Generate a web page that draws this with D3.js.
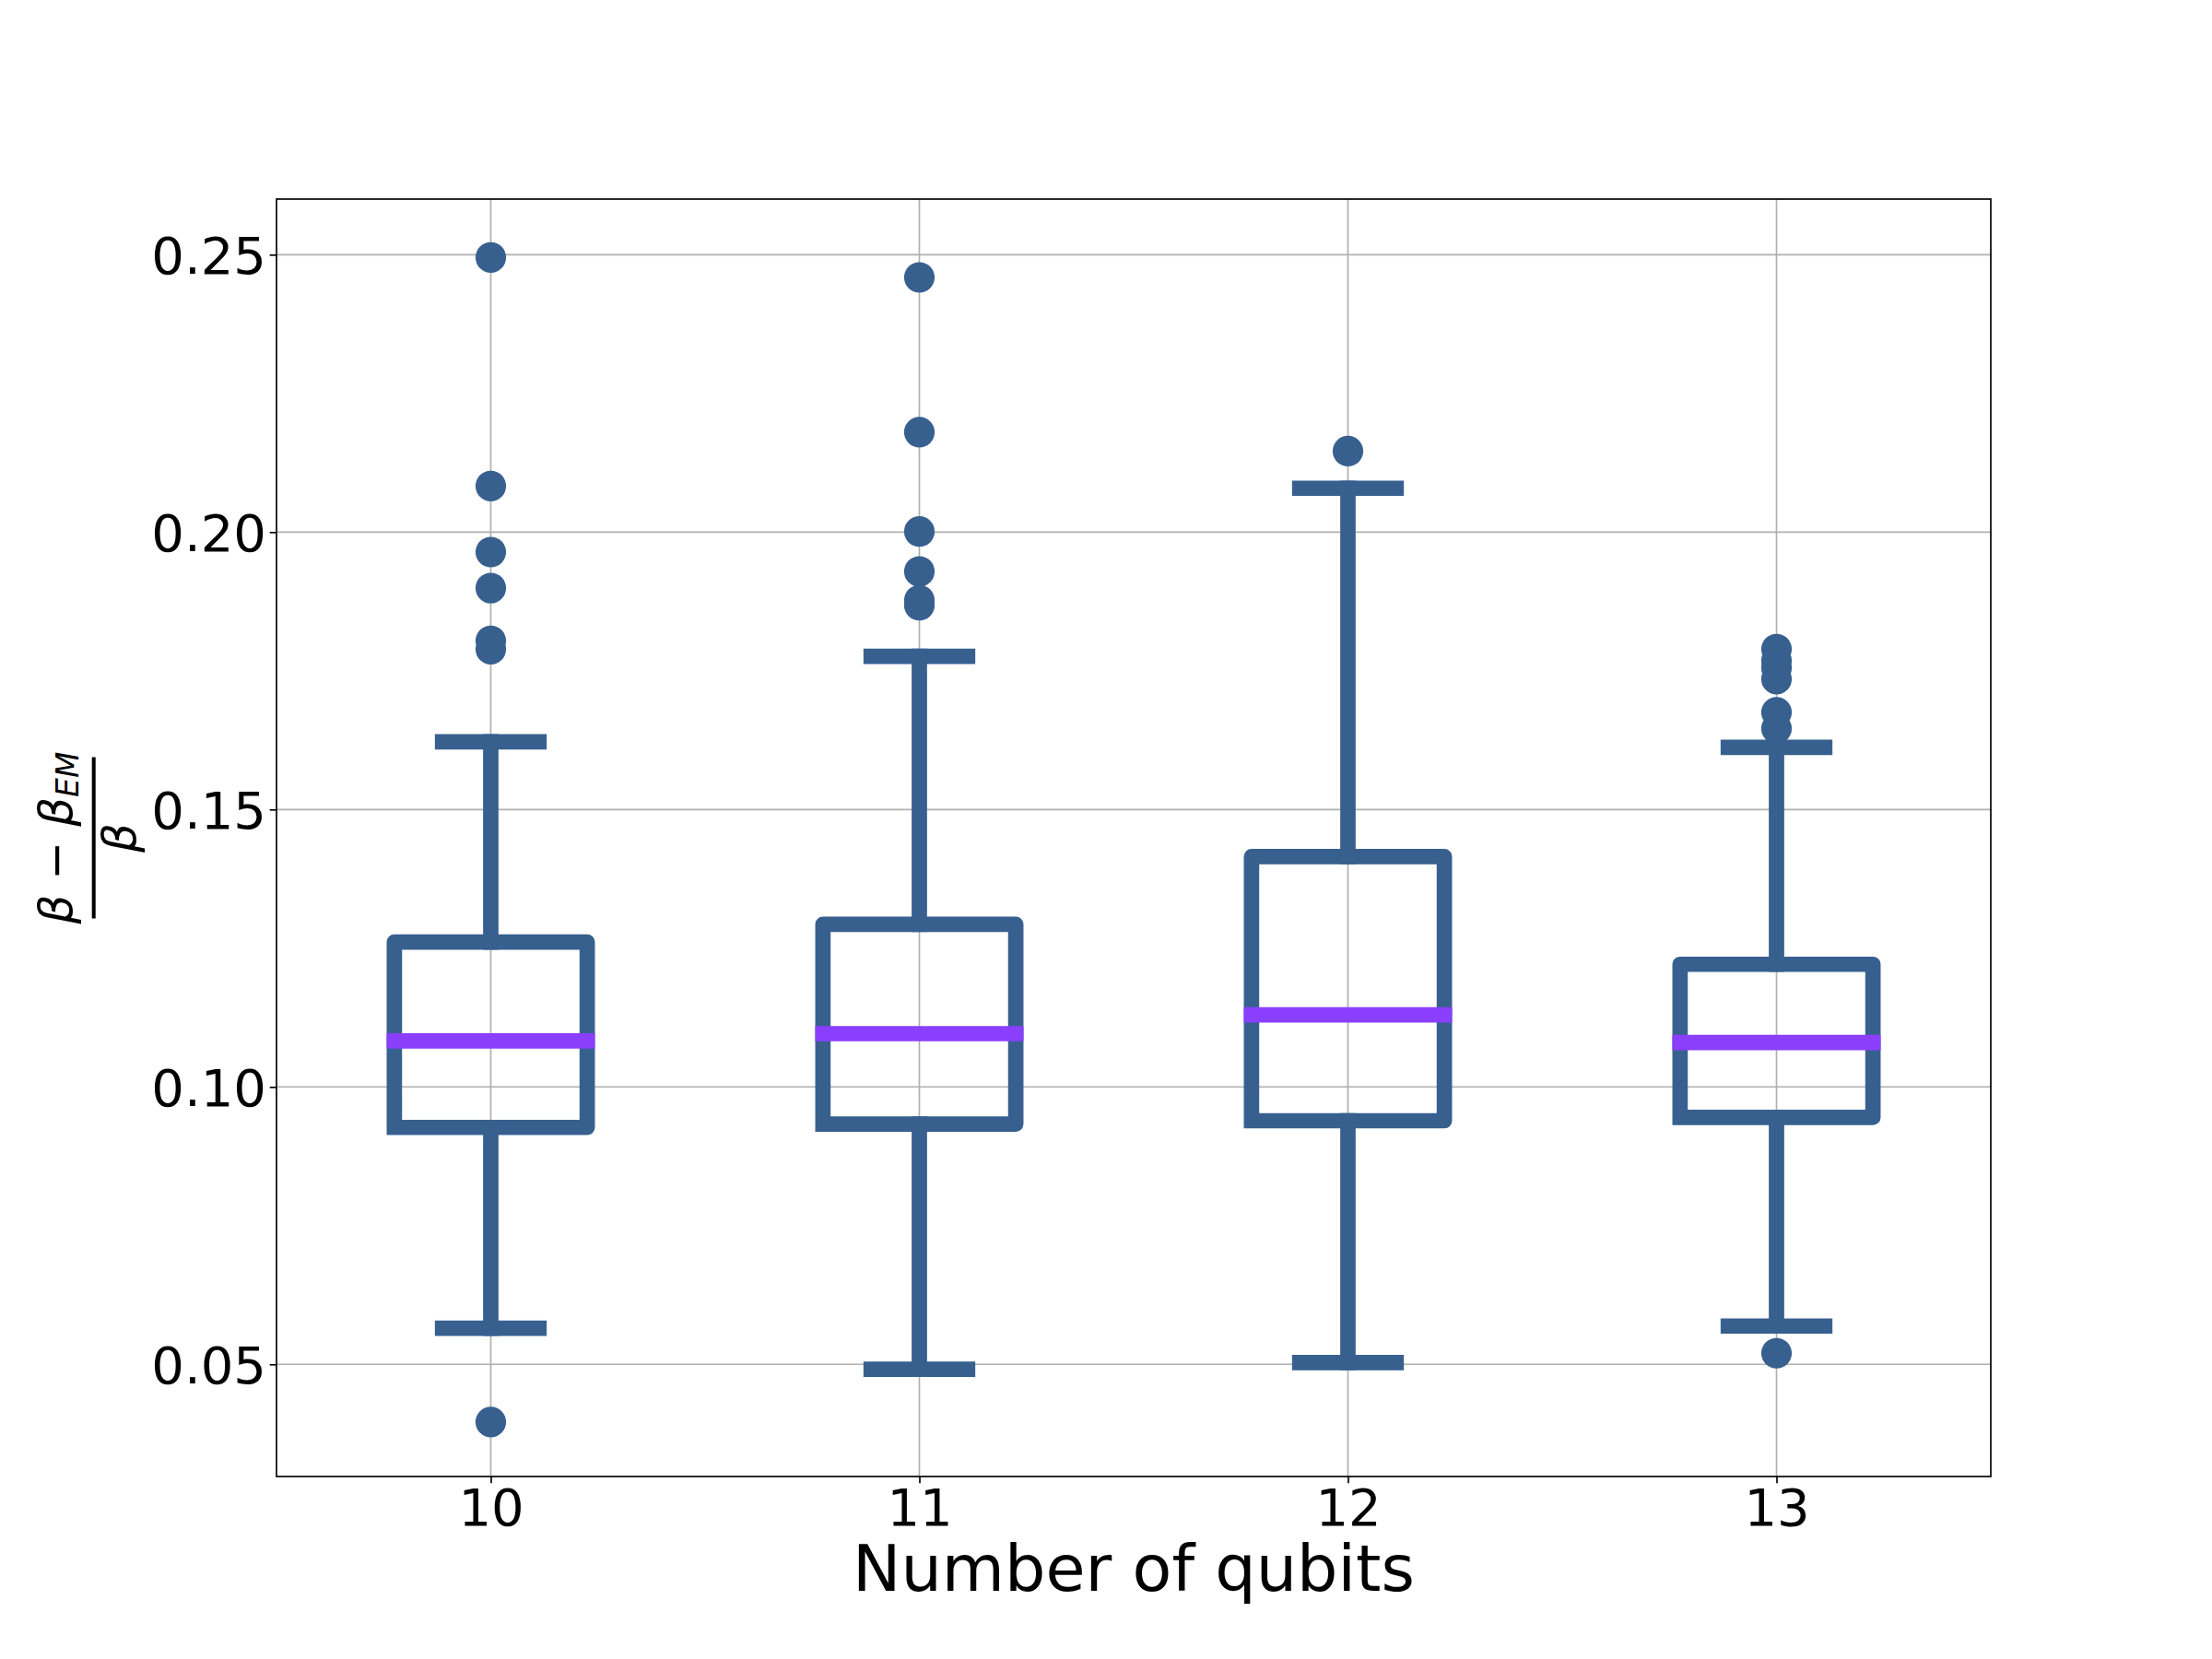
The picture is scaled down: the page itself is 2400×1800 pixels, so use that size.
<!DOCTYPE html>
<html>
<meta charset="utf-8" />
<title>Boxplot qubits</title>
<head>
    <script src="https://d3js.org/d3.v7.min.js"></script>
    <style>
        body { margin: 0; background: #fff; }
        text { font-family: "DejaVu Sans", sans-serif; }
    </style>
</head>
<body>
<div id="chart"></div>
<script type="text/javascript">
    // values
    const categories = ["10", "11", "12", "13"];
    const whiskerLow = [0.0565, 0.0491, 0.0503, 0.0569];
    const q1 = [0.0927, 0.0933, 0.0939, 0.0945];
    const median = [0.1083, 0.1096, 0.1130, 0.1080];
    const q3 = [0.1261, 0.1293, 0.1415, 0.1221];
    const whiskerHigh = [0.1622, 0.1776, 0.2079, 0.1612];
    const fliers = [
        [0.2495, 0.2083, 0.1964, 0.1899, 0.1804, 0.1789, 0.0396],
        [0.2459, 0.2180, 0.2001, 0.1929, 0.1877, 0.1868],
        [0.2146],
        [0.1789, 0.1768, 0.1755, 0.1735, 0.1675, 0.1646, 0.0520]
    ];
    const yTicks = [0.05, 0.10, 0.15, 0.20, 0.25];

    const W = 2400, H = 1800;
    const axL = 300, axR = 2160, axT = 216, axB = 1602;
    const boxColor = "#37608f", medColor = "#8a3ffc";
    const lw = 16.7;      // 8pt at 150 dpi
    const tickLen = 7.3;

    var x = d3.scalePoint().domain(categories).range([axL, axR]).padding(0.5);
    var step = x.step();
    var boxW = 0.45 * step, capW = 0.225 * step;
    var y = d3.scaleLinear().domain([0.02978, 0.26002]).range([axB, axT]);

    var svg = d3.select("#chart").append("svg")
        .attr("width", W).attr("height", H)
        .style("background", "#fff");

    // grid
    svg.append("g").selectAll("line").data(yTicks).enter().append("line")
        .attr("x1", axL).attr("x2", axR)
        .attr("y1", d => y(d)).attr("y2", d => y(d))
        .attr("stroke", "#b0b0b0").attr("stroke-width", 1.67);
    svg.append("g").selectAll("line").data(categories).enter().append("line")
        .attr("x1", d => x(d)).attr("x2", d => x(d))
        .attr("y1", axT).attr("y2", axB)
        .attr("stroke", "#b0b0b0").attr("stroke-width", 1.67);

    var rows = categories.map((c, i) => ({
        c: c, lo: whiskerLow[i], q1: q1[i], med: median[i], q3: q3[i],
        hi: whiskerHigh[i], fl: fliers[i]
    }));

    var g = svg.append("g");
    var box = g.selectAll("g.box").data(rows).enter().append("g");

    // box outline, open path starting bottom-left like matplotlib
    box.append("path")
        .attr("d", d => {
            let l = x(d.c) - boxW / 2, r = x(d.c) + boxW / 2;
            return "M" + l + "," + y(d.q1) + "L" + r + "," + y(d.q1) +
                "L" + r + "," + y(d.q3) + "L" + l + "," + y(d.q3) +
                "L" + l + "," + y(d.q1);
        })
        .attr("fill", "none").attr("stroke", boxColor).attr("stroke-width", lw)
        .attr("stroke-linejoin", "round").attr("stroke-linecap", "square");

    // whiskers
    box.append("line")
        .attr("x1", d => x(d.c)).attr("x2", d => x(d.c))
        .attr("y1", d => y(d.q1)).attr("y2", d => y(d.lo));
    box.append("line")
        .attr("x1", d => x(d.c)).attr("x2", d => x(d.c))
        .attr("y1", d => y(d.q3)).attr("y2", d => y(d.hi));
    // caps
    box.append("line")
        .attr("x1", d => x(d.c) - capW / 2).attr("x2", d => x(d.c) + capW / 2)
        .attr("y1", d => y(d.lo)).attr("y2", d => y(d.lo));
    box.append("line")
        .attr("x1", d => x(d.c) - capW / 2).attr("x2", d => x(d.c) + capW / 2)
        .attr("y1", d => y(d.hi)).attr("y2", d => y(d.hi));
    box.selectAll("line")
        .attr("stroke", boxColor).attr("stroke-width", lw)
        .attr("stroke-linecap", "square");

    // medians
    box.append("line")
        .attr("x1", d => x(d.c) - boxW / 2).attr("x2", d => x(d.c) + boxW / 2)
        .attr("y1", d => y(d.med)).attr("y2", d => y(d.med))
        .attr("stroke", medColor).attr("stroke-width", lw)
        .attr("stroke-linecap", "square");

    // fliers
    box.each(function(d) {
        d3.select(this).selectAll("circle").data(d.fl).enter().append("circle")
            .attr("cx", x(d.c)).attr("cy", v => y(v))
            .attr("r", 16.6).attr("fill", boxColor);
    });

    // frame
    svg.append("rect")
        .attr("x", axL).attr("y", axT)
        .attr("width", axR - axL).attr("height", axB - axT)
        .attr("fill", "none").attr("stroke", "#000").attr("stroke-width", 1.67);

    // axes
    var yAxis = svg.append("g").attr("transform", "translate(" + axL + ",0)")
        .call(d3.axisLeft(y).tickValues(yTicks).tickFormat(d3.format(".2f"))
            .tickSize(tickLen).tickPadding(tickLen));
    yAxis.select(".domain").remove();
    yAxis.selectAll("line").attr("stroke-width", 1.67);
    yAxis.selectAll("text").attr("font-size", 56).attr("x", -11)
        .attr("dy", "0.36em").attr("fill", "#000")
        .style("font-family", "'DejaVu Sans'");

    var xAxis = svg.append("g").attr("transform", "translate(0," + axB + ")")
        .call(d3.axisBottom(x).tickSize(tickLen).tickPadding(tickLen));
    xAxis.select(".domain").remove();
    xAxis.selectAll("line").attr("stroke-width", 1.67);
    xAxis.selectAll("text").attr("font-size", 56).attr("y", 53)
        .attr("dy", 0).attr("fill", "#000")
        .style("font-family", "'DejaVu Sans'");

    svg.append("text")
        .attr("x", (axL + axR) / 2).attr("y", 1726)
        .attr("text-anchor", "middle").attr("font-size", 70)
        .text("Number of qubits");

    // y label: (β − β_EM) / β
    var yl = svg.append("g").attr("transform", "translate(101.7,909) rotate(-90)");
    yl.append("line").attr("x1", -87.5).attr("x2", 87.5).attr("y1", 0).attr("y2", 0)
        .attr("stroke", "#000").attr("stroke-width", 4);
    var num = yl.append("text").attr("x", 0).attr("y", -24.2)
        .attr("text-anchor", "middle").attr("font-size", 50);
    num.append("tspan").attr("font-style", "italic").text("β");
    num.append("tspan").text(" − ");
    num.append("tspan").attr("font-style", "italic").text("β");
    num.append("tspan").attr("font-style", "italic").attr("font-size", 33)
        .attr("dy", 7.5).text("EM");
    yl.append("text").attr("x", 0).attr("y", 44.8)
        .attr("text-anchor", "middle").attr("font-size", 50)
        .attr("font-style", "italic").text("β");
</script>
</body>
</html>
